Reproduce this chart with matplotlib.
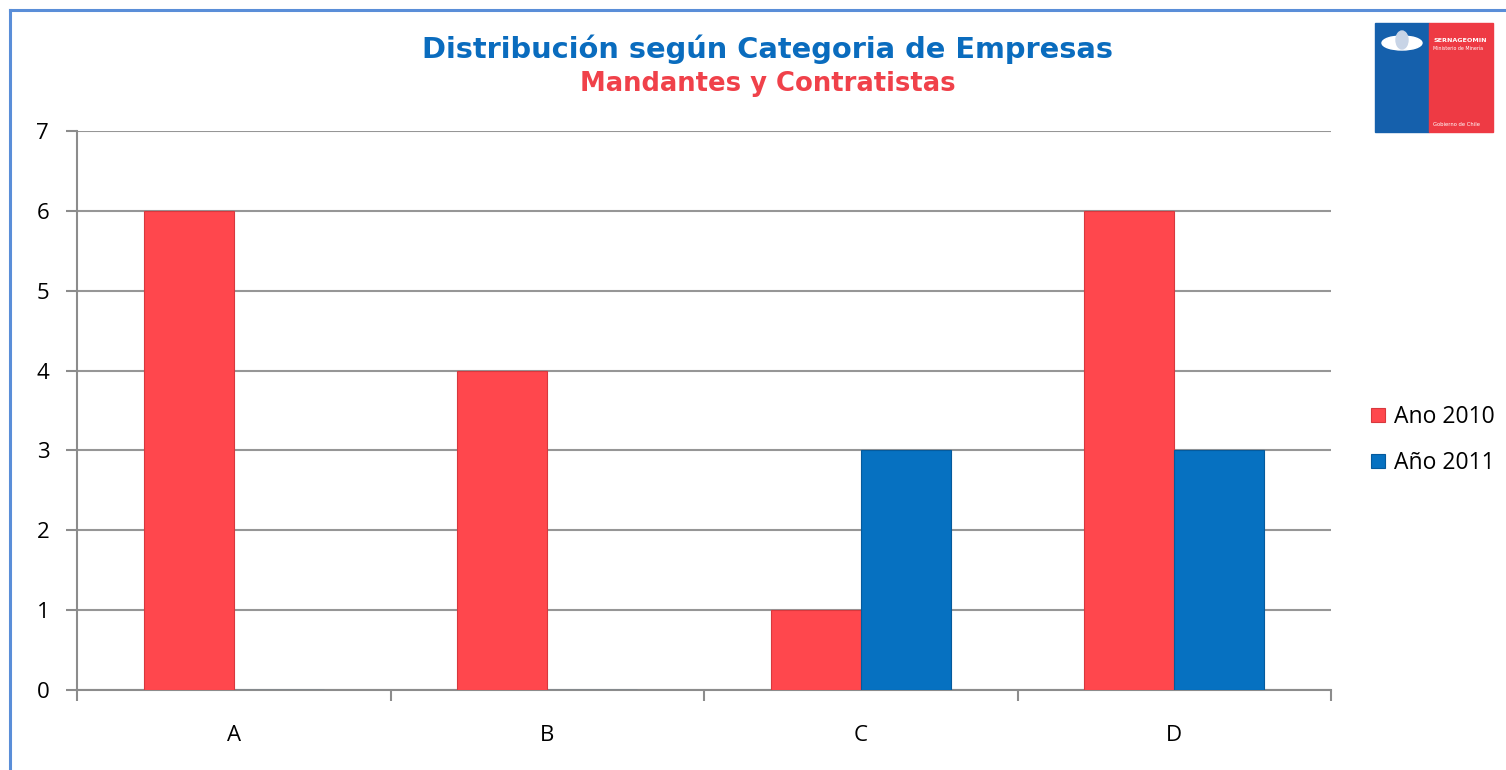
import matplotlib
matplotlib.use("Agg")
import matplotlib.pyplot as plt
from matplotlib.patches import Rectangle, Ellipse
from matplotlib.lines import Line2D

categories = ["A", "B", "C", "D"]
ano_2010 = [6, 4, 1, 6]
ano_2011 = [0, 0, 3, 3]
series_labels = ["Ano 2010", "Año 2011"]
title = "Distribución según Categoria de Empresas"
subtitle = "Mandantes y Contratistas"

W, H = 1506, 770
RED = "#FF474D"
BLUE = "#0671C1"

fig = plt.figure(figsize=(W / 100, H / 100), dpi=100)
fig.patch.set_facecolor("white")

def fx(px):
    return px / W

def fy(py):
    return 1 - py / H

# frame
fig.add_artist(Line2D([fx(10), fx(10)], [fy(10), fy(H)], color="#5A8ED8", lw=2.2))
fig.add_artist(Line2D([fx(10), 1.0], [fy(10), fy(10)], color="#5A8ED8", lw=2.2))

ax = fig.add_axes([fx(77), fy(690), fx(1331) - fx(77), fy(131) - fy(690)])
x = list(range(len(categories)))
w = 0.287
ax.bar([i - w / 2 for i in x], ano_2010, width=w, color=RED, edgecolor="#D8383D",
       linewidth=0.8, label=series_labels[0], zorder=3)
ax.bar([i + w / 2 for i in x], ano_2011, width=w, color=BLUE, edgecolor="#055A9C",
       linewidth=0.8, label=series_labels[1], zorder=3)

ax.set_xlim(-0.5, len(categories) - 0.5)
ax.set_ylim(0, 7)
ax.set_yticks(range(0, 8))
ax.yaxis.grid(True, color="#969696", lw=1.5, zorder=0)
ax.set_xticks([i - 0.5 for i in range(len(categories) + 1)])
ax.set_xticklabels([])
ax.set_xticks(x, minor=True)
ax.set_xticklabels(categories, minor=True)
ax.tick_params(axis="x", which="minor", length=0, pad=25, labelsize=16)
ax.tick_params(axis="x", which="major", length=8, width=1.5, color="#8C8C8C")
ax.tick_params(axis="y", length=8, width=1.5, color="#8C8C8C", labelsize=16, pad=12)
for lbl in ax.get_xticklabels(minor=True) + ax.get_yticklabels():
    lbl.set_fontfamily("Open Sans")
for s in ["top", "right"]:
    ax.spines[s].set_visible(False)
for s in ["left", "bottom"]:
    ax.spines[s].set_color("#8C8C8C")
    ax.spines[s].set_linewidth(1.5)

leg = fig.legend(loc="upper left", bbox_to_anchor=(fx(1362), fy(396)), frameon=False,
                 prop={"family": "Open Sans", "size": 16.5}, handlelength=0.6, handleheight=0.6,
                 handletextpad=0.4, labelspacing=0.95, borderaxespad=0)

fig.text(fx(768), fy(49), title, ha="center", va="center", color="#0A6CBE",
         fontsize=20.8, fontweight="bold", family="DejaVu Sans")
fig.text(fx(768), fy(84), subtitle, ha="center", va="center", color="#F0414A",
         fontsize=18.6, fontweight="bold", family="DejaVu Sans")

# logo
fig.add_artist(Rectangle((fx(1375), fy(132)), fx(1429) - fx(1375), fy(23) - fy(132),
                         transform=fig.transFigure, color="#1560AC"))
fig.add_artist(Rectangle((fx(1429), fy(132)), fx(1493) - fx(1429), fy(23) - fy(132),
                         transform=fig.transFigure, color="#EE3A44"))
fig.add_artist(Ellipse((fx(1402), fy(43)), fx(40) - fx(0), fy(0) - fy(14),
                       transform=fig.transFigure, color="white"))
fig.add_artist(Ellipse((fx(1402), fy(40)), fx(12) - fx(0), fy(0) - fy(18),
                       transform=fig.transFigure, color="#C8D4E6"))
fig.text(fx(1433), fy(40), "SERNAGEOMIN", color="white", fontsize=4.6, fontweight="bold",
         va="center", ha="left")
fig.text(fx(1433), fy(48), "Ministerio de Minería", color="white", fontsize=3.4,
         va="center", ha="left")
fig.text(fx(1433), fy(124), "Gobierno de Chile", color="white", fontsize=3.8,
         va="center", ha="left")

fig.savefig("out.png", dpi=100)
